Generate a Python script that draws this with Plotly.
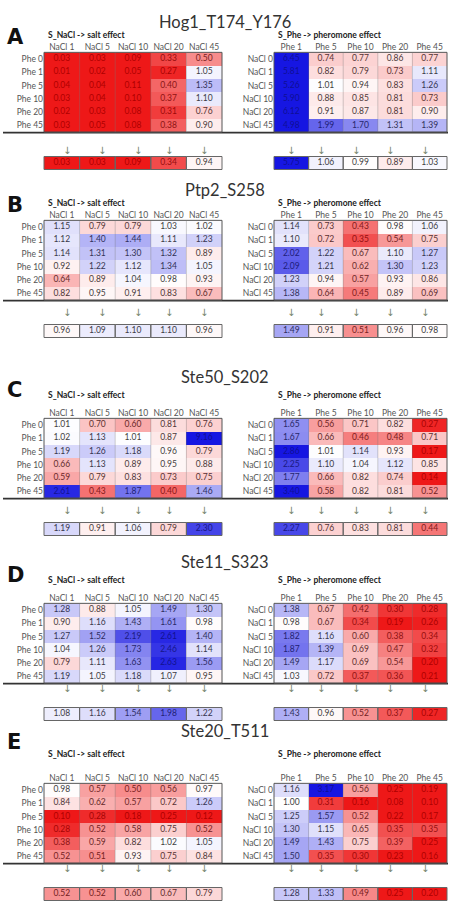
import numpy as np
import plotly.graph_objects as go

W, H = 449, 907

# ---------------- data ----------------
salt_cols = ["NaCl 1", "NaCl 5", "NaCl 10", "NaCl 20", "NaCl 45"]
salt_rows = ["Phe 0", "Phe 1", "Phe 5", "Phe 10", "Phe 20", "Phe 45"]
pher_cols = ["Phe 1", "Phe 5", "Phe 10", "Phe 20", "Phe 45"]
pher_rows = ["NaCl 0", "NaCl 1", "NaCl 5", "NaCl 10", "NaCl 20", "NaCl 45"]

panel_letters = ["A", "B", "C", "D", "E"]
panel_titles = ["Hog1_T174_Y176", "Ptp2_S258", "Ste50_S202", "Ste11_S323", "Ste20_T511"]
salt_subtitle = "S_NaCl -> salt effect"
pher_subtitle = "S_Phe -> pheromone effect"

salt_A = [[0.03, 0.03, 0.09, 0.33, 0.50],
          [0.01, 0.02, 0.05, 0.27, 1.05],
          [0.04, 0.04, 0.11, 0.40, 1.35],
          [0.03, 0.04, 0.10, 0.37, 1.10],
          [0.02, 0.03, 0.08, 0.31, 0.76],
          [0.03, 0.05, 0.08, 0.38, 0.90]]
salt_A_sum = [0.03, 0.03, 0.09, 0.34, 0.94]
pher_A = [[6.45, 0.74, 0.77, 0.86, 0.77],
          [5.81, 0.82, 0.79, 0.73, 1.11],
          [5.26, 1.01, 0.94, 0.83, 1.26],
          [5.90, 0.88, 0.85, 0.81, 0.73],
          [6.12, 0.91, 0.87, 0.81, 0.90],
          [4.98, 1.99, 1.70, 1.31, 1.39]]
pher_A_sum = [5.75, 1.06, 0.99, 0.89, 1.03]

salt_B = [[1.15, 0.79, 0.79, 1.03, 1.02],
          [1.12, 1.40, 1.44, 1.11, 1.23],
          [1.14, 1.31, 1.30, 1.32, 0.89],
          [0.92, 1.22, 1.12, 1.34, 1.05],
          [0.64, 0.89, 1.04, 0.98, 0.93],
          [0.82, 0.95, 0.91, 0.83, 0.67]]
salt_B_sum = [0.96, 1.09, 1.10, 1.10, 0.96]
pher_B = [[1.14, 0.73, 0.43, 0.98, 1.06],
          [1.10, 0.72, 0.35, 0.54, 0.75],
          [2.02, 1.22, 0.67, 1.10, 1.27],
          [2.09, 1.21, 0.62, 1.30, 1.23],
          [1.23, 0.94, 0.57, 0.93, 0.86],
          [1.38, 0.64, 0.45, 0.89, 0.69]]
pher_B_sum = [1.49, 0.91, 0.51, 0.96, 0.98]

salt_C = [[1.01, 0.70, 0.60, 0.81, 0.76],
          [1.02, 1.13, 1.01, 0.87, 9.16],
          [1.19, 1.26, 1.18, 0.96, 0.79],
          [0.66, 1.13, 0.89, 0.95, 0.88],
          [0.59, 0.79, 0.83, 0.73, 0.75],
          [2.61, 0.43, 1.87, 0.40, 1.46]]
salt_C_sum = [1.19, 0.91, 1.06, 0.79, 2.30]
pher_C = [[1.65, 0.56, 0.71, 0.82, 0.27],
          [1.67, 0.66, 0.46, 0.48, 0.71],
          [2.86, 1.01, 1.14, 0.93, 0.17],
          [2.25, 1.10, 1.04, 1.12, 0.85],
          [1.77, 0.66, 0.82, 0.74, 0.14],
          [3.40, 0.58, 0.82, 0.81, 0.52]]
pher_C_sum = [2.27, 0.76, 0.83, 0.81, 0.44]

salt_D = [[1.28, 0.88, 1.05, 1.49, 1.30],
          [0.90, 1.16, 1.43, 1.61, 0.98],
          [1.27, 1.52, 2.19, 2.61, 1.40],
          [1.04, 1.26, 1.73, 2.46, 1.14],
          [0.79, 1.11, 1.63, 2.63, 1.56],
          [1.19, 1.05, 1.18, 1.07, 0.95]]
salt_D_sum = [1.08, 1.16, 1.54, 1.98, 1.22]
pher_D = [[1.38, 0.67, 0.42, 0.30, 0.28],
          [0.98, 0.67, 0.34, 0.19, 0.26],
          [1.82, 1.16, 0.60, 0.38, 0.34],
          [1.87, 1.39, 0.69, 0.47, 0.32],
          [1.49, 1.17, 0.69, 0.54, 0.20],
          [1.03, 0.72, 0.37, 0.36, 0.21]]
pher_D_sum = [1.43, 0.96, 0.52, 0.37, 0.27]

salt_E = [[0.98, 0.57, 0.50, 0.56, 0.97],
          [0.84, 0.62, 0.57, 0.72, 1.26],
          [0.10, 0.28, 0.18, 0.25, 0.12],
          [0.28, 0.52, 0.58, 0.75, 0.52],
          [0.38, 0.59, 0.82, 1.02, 1.05],
          [0.52, 0.51, 0.93, 0.75, 0.84]]
salt_E_sum = [0.52, 0.52, 0.60, 0.67, 0.79]
pher_E = [[1.16, 3.17, 0.56, 0.25, 0.19],
          [1.00, 0.31, 0.16, 0.08, 0.10],
          [1.25, 1.57, 0.52, 0.22, 0.17],
          [1.30, 1.15, 0.65, 0.35, 0.35],
          [1.49, 1.43, 0.75, 0.39, 0.25],
          [1.50, 0.35, 0.30, 0.23, 0.16]]
pher_E_sum = [1.28, 1.33, 0.49, 0.25, 0.20]

salt_tables = [salt_A, salt_B, salt_C, salt_D, salt_E]
salt_sums = [salt_A_sum, salt_B_sum, salt_C_sum, salt_D_sum, salt_E_sum]
pher_tables = [pher_A, pher_B, pher_C, pher_D, pher_E]
pher_sums = [pher_A_sum, pher_B_sum, pher_C_sum, pher_D_sum, pher_E_sum]

# ---------------- style / layout constants ----------------
ZMIN, ZMAX = -2.0, 1.5
RED = (238, 24, 24)
BLUE = (22, 22, 226)
mid = -ZMIN / (ZMAX - ZMIN)
colorscale = [[0, "rgb(%d,%d,%d)" % RED], [mid, "rgb(255,255,255)"], [1, "rgb(%d,%d,%d)" % BLUE]]

FONT = "Lato"
ROW_H = 13.3
first_row = [59, 227, 425, 610, 790]
side_x = [(44, 222), (274, 447)]
ARROW_OFF = 85
SUM_OFF = 104
SUM_H = 13
SUB_OFF = 30


def px_x(x):
    return x / W


def px_y(y):
    return 1 - y / H


def text_color(v):
    z = np.log2(v)
    if z < 0:
        t = min(1.0, -z / -ZMIN)
        c0, c1 = np.array([64, 64, 64]), np.array([175, 0, 0])
    else:
        t = min(1.0, z / ZMAX)
        c0, c1 = np.array([64, 64, 64]), np.array([15, 15, 150])
    c = c0 + (c1 - c0) * t
    return "rgb(%d,%d,%d)" % tuple(c.astype(int))


def ax_names(k):
    if k == 1:
        return "x", "y", "xaxis", "yaxis"
    return "x%d" % k, "y%d" % k, "xaxis%d" % k, "yaxis%d" % k


fig = go.Figure()
layout = dict(width=W, height=H, margin=dict(l=0, r=0, t=0, b=0),
              paper_bgcolor="white", plot_bgcolor="white", showlegend=False,
              font=dict(family=FONT, color="#444"))
shapes, annotations = [], []

n = 0
for p in range(5):
    r0 = first_row[p]
    top = r0 - ROW_H / 2
    bot = r0 + 5.5 * ROW_H
    s_c = r0 + SUM_OFF
    s_top, s_bot = s_c - SUM_H / 2, s_c + SUM_H / 2

    annotations.append(dict(text=panel_titles[p], x=0.5, y=px_y(r0 - 48), xref="paper", yref="paper",
                            showarrow=False, borderpad=0, font=dict(size=16.5, family=FONT, color="#333")))
    annotations.append(dict(text="<b>%s</b>" % panel_letters[p], x=px_x(6), y=px_y(r0 - 35), xref="paper",
                            yref="paper", xanchor="left", showarrow=False, borderpad=0,
                            font=dict(size=21, family="DejaVu Sans", color="#111")))
    shapes.append(dict(type="line", xref="paper", yref="paper", x0=px_x(3), x1=px_x(448),
                       y0=px_y(bot + 0.5), y1=px_y(bot + 0.5), line=dict(color="#333", width=1.8)))

    for s in range(2):
        if s == 0:
            vals, sums, cols, rows, sub = salt_tables[p], salt_sums[p], salt_cols, salt_rows, salt_subtitle
        else:
            vals, sums, cols, rows, sub = pher_tables[p], pher_sums[p], pher_cols, pher_rows, pher_subtitle
        x0, x1 = side_x[s]
        cw = (x1 - x0) / len(cols)
        vals = np.array(vals, dtype=float)
        sums = np.array(sums, dtype=float)

        annotations.append(dict(text="<b>%s</b>" % sub, x=px_x(x0 + 3), y=px_y(r0 - SUB_OFF), xref="paper",
                                yref="paper", xanchor="left", showarrow=False, borderpad=0,
                                font=dict(size=8.5, family=FONT, color="#222")))

        # main table
        n += 1
        xa, ya, xk, yk = ax_names(n)
        fig.add_trace(go.Heatmap(z=np.log2(vals), x=cols, y=rows, zmin=ZMIN, zmax=ZMAX,
                                 colorscale=colorscale, showscale=False, hoverinfo="skip",
                                 xaxis=xa, yaxis=ya))
        xs = [c for r in rows for c in cols]
        ys = [r for r in rows for c in cols]
        fig.add_trace(go.Scatter(x=xs, y=ys, mode="text", text=["%.2f" % v for v in vals.ravel()],
                                 textfont=dict(size=8.5, family=FONT,
                                               color=[text_color(v) for v in vals.ravel()]),
                                 hoverinfo="skip", xaxis=xa, yaxis=ya))
        layout[xk] = dict(domain=[px_x(x0), px_x(x1)], anchor=ya, side="top", type="category",
                          showgrid=False, zeroline=False, ticks="", showline=False,
                          tickfont=dict(size=8.5, color="#555", family=FONT), fixedrange=True)
        layout[yk] = dict(domain=[px_y(bot), px_y(top)], anchor=xa, type="category",
                          autorange="reversed", showgrid=False, zeroline=False, ticks="",
                          showline=False, tickfont=dict(size=8.5, color="#555", family=FONT),
                          fixedrange=True)
        shapes.append(dict(type="rect", xref=xa + " domain", yref=ya + " domain", x0=0, x1=1, y0=0, y1=1,
                           line=dict(color="#555", width=1)))
        for i in range(1, len(cols)):
            shapes.append(dict(type="line", xref=xa + " domain", yref=ya + " domain", x0=i / len(cols),
                               x1=i / len(cols), y0=0, y1=1,
                               line=dict(color="rgba(120,120,120,0.45)", width=0.8)))

        # arrows
        for i in range(len(cols)):
            annotations.append(dict(text="↓", x=px_x(x0 + (i + 0.5) * cw), y=px_y(r0 + ARROW_OFF),
                                    xref="paper", yref="paper", showarrow=False, borderpad=0,
                                    font=dict(size=10, family="DejaVu Sans", color="#74836a")))

        # summary row
        n += 1
        xa, ya, xk, yk = ax_names(n)
        fig.add_trace(go.Heatmap(z=[np.log2(sums)], x=cols, y=[" "], zmin=ZMIN, zmax=ZMAX,
                                 colorscale=colorscale, showscale=False, hoverinfo="skip",
                                 xaxis=xa, yaxis=ya))
        fig.add_trace(go.Scatter(x=cols, y=[" "] * len(cols), mode="text", text=["%.2f" % v for v in sums],
                                 textfont=dict(size=8.5, family=FONT, color=[text_color(v) for v in sums]),
                                 hoverinfo="skip", xaxis=xa, yaxis=ya))
        layout[xk] = dict(domain=[px_x(x0), px_x(x1)], anchor=ya, type="category",
                          showticklabels=False, showgrid=False, zeroline=False, ticks="",
                          fixedrange=True)
        layout[yk] = dict(domain=[px_y(s_bot), px_y(s_top)], anchor=xa, type="category",
                          showticklabels=False, showgrid=False, zeroline=False, ticks="",
                          fixedrange=True)
        for i in range(len(cols)):
            shapes.append(dict(type="rect", xref=xa + " domain", yref=ya + " domain", x0=i / len(cols),
                               x1=(i + 1) / len(cols), y0=0, y1=1, line=dict(color="#666", width=1)))

layout["shapes"] = shapes
layout["annotations"] = annotations
fig.update_layout(**layout)
fig.write_html("out.html")
